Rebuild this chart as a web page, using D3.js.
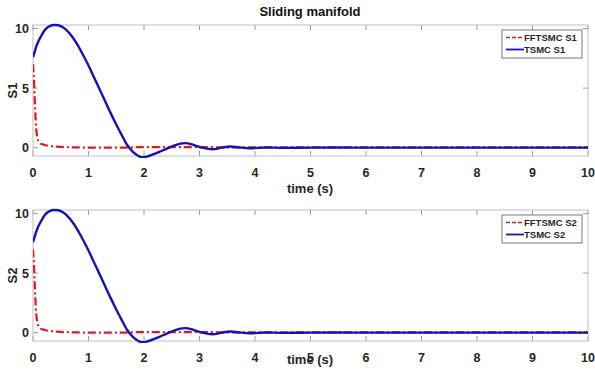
<!DOCTYPE html>
<html><head><meta charset="utf-8">
<script src="https://cdn.jsdelivr.net/npm/d3@7"></script>
<style>body{margin:0;background:#fff}svg{display:block}text{font-family:"Liberation Sans",Arial,sans-serif}</style>
</head><body>
<svg id="c" width="595" height="370"></svg>
<script>
const xTicks = [0,1,2,3,4,5,6,7,8,9,10];
const yTicks = [0,5,10];
const time   = [0,   0.02,0.04,0.06,0.08,0.1, 0.12,0.15,0.2, 0.25, 0.3, 0.38,0.45, 0.5, 0.6, 0.7, 0.8, 0.9, 1.0, 1.1, 1.2, 1.3, 1.4, 1.5, 1.6, 1.7, 1.8,  1.9, 1.96,2.05, 2.2, 2.4, 2.55,2.74,2.9, 3.05,3.24, 3.4, 3.55,3.7, 3.9,  4.2, 4.5,  5,   5.5, 6,   7,   8,   9,   10];
const tsmcS1 = [7.6, 7.9, 8.2, 8.5, 8.75,8.95,9.15,9.4, 9.8, 10.05,10.2,10.3,10.28,10.2,9.9, 9.35,8.65,7.8, 6.9, 5.9, 4.9, 3.9, 2.9, 1.95,1.05,0.2, -0.35,-0.7,-0.8,-0.75,-0.5,-0.1,0.2, 0.38,0.22,0.0, -0.13,0.0, 0.1, 0.03,-0.05,0.02,-0.02,0.0, 0.01,0.0, 0.0, 0.0, 0.0, 0.0];
const ffS1   = [7.0, 5.4, 3.1, 1.5, 0.8, 0.55,0.42,0.32,0.24,0.18, 0.14,0.1, 0.08, 0.06,0.04,0.03,0.02,0.01,0.0, 0.0, 0.0, 0.0, 0.0, 0.0, 0.0, 0.02,0.03, 0.04,0.05,0.05, 0.05,0.05,0.05,0.05,0.05,0.05,0.04, 0.03,0.03,0.02,0.02, 0.02,0.02, 0.02,0.02,0.02,0.02,0.02,0.02,0.02];
const tsmcS2 = tsmcS1.slice();
const ffS2 = ffS1.slice();
const panels = [
  {top:25, bottom:156, ylab:"S1", legend:["FFTSMC S1","TSMC S1"], blue:tsmcS1, red:ffS1, xlabY:193},
  {top:210, bottom:341, ylab:"S2", legend:["FFTSMC S2","TSMC S2"], blue:tsmcS2, red:ffS2, xlabY:364}
];
const svg = d3.select("#c");
const left = 33, right = 588;
const x = d3.scaleLinear().domain([0,10]).range([left,right]);
const txtCol = "#262626", axCol = "#bfbfbf";
panels.forEach(p => {
  const y = d3.scaleLinear().domain([-0.7,10.3]).range([p.bottom,p.top]);
  const g = svg.append("g");
  xTicks.forEach(t => {
    g.append("line").attr("x1",x(t)).attr("x2",x(t)).attr("y1",p.bottom).attr("y2",p.bottom-5).attr("stroke","#9a9a9a");
    g.append("line").attr("x1",x(t)).attr("x2",x(t)).attr("y1",p.top).attr("y2",p.top+5).attr("stroke","#9a9a9a");
    g.append("text").attr("x",x(t)).attr("y",p.bottom+21).attr("text-anchor","middle").attr("font-size",12.5).attr("font-weight","bold").attr("fill",txtCol).text(t);
  });
  yTicks.forEach(t => {
    g.append("line").attr("x1",left).attr("x2",left+5).attr("y1",y(t)).attr("y2",y(t)).attr("stroke","#9a9a9a");
    g.append("line").attr("x1",right).attr("x2",right-5).attr("y1",y(t)).attr("y2",y(t)).attr("stroke","#9a9a9a");
    g.append("text").attr("x",left-4).attr("y",y(t)+4.5).attr("text-anchor","end").attr("font-size",12.5).attr("font-weight","bold").attr("fill",txtCol).text(t);
  });
  g.append("rect").attr("x",left).attr("y",p.top).attr("width",right-left).attr("height",p.bottom-p.top).attr("fill","none").attr("stroke",axCol);
  const line = d3.line().x((d,i)=>x(time[i])).y(d=>y(d)).curve(d3.curveMonotoneX);
  const clip = "clip"+p.ylab;
  svg.append("clipPath").attr("id",clip).append("rect").attr("x",left).attr("y",p.top-2).attr("width",right-left).attr("height",p.bottom-p.top+4);
  const cg = g.append("g").attr("clip-path",`url(#${clip})`);
  cg.append("path").datum(p.red).attr("d",line).attr("fill","none").attr("stroke","#e8141c").attr("stroke-width",2.2).attr("stroke-dasharray","8,3,2,3");
  cg.append("path").datum(p.blue).attr("d",line).attr("fill","none").attr("stroke","#1414b4").attr("stroke-width",2.4);
  g.append("text").attr("transform",`translate(17,${(p.top+p.bottom)/2}) rotate(-90)`).attr("text-anchor","middle").attr("font-size",13).attr("font-weight","bold").attr("fill",txtCol).text(p.ylab);
  g.append("text").attr("x",310).attr("y",p.xlabY).attr("text-anchor","middle").attr("font-size",13).attr("font-weight","bold").attr("fill",txtCol).text("time (s)");
  const lx = 502, ly = p.top+5;
  g.append("rect").attr("x",lx).attr("y",ly).attr("width",80).attr("height",28).attr("fill","#fff").attr("stroke","#555").attr("stroke-width",0.8);
  g.append("line").attr("x1",lx+4).attr("x2",lx+22).attr("y1",ly+7.5).attr("y2",ly+7.5).attr("stroke","#e8141c").attr("stroke-width",1.6).attr("stroke-dasharray","4,2");
  g.append("line").attr("x1",lx+4).attr("x2",lx+22).attr("y1",ly+19.5).attr("y2",ly+19.5).attr("stroke","#1414b4").attr("stroke-width",1.8);
  g.append("text").attr("x",lx+22).attr("y",ly+11).attr("font-size",9.5).attr("font-weight","bold").attr("fill",txtCol).text(p.legend[0]);
  g.append("text").attr("x",lx+22).attr("y",ly+23).attr("font-size",9.5).attr("font-weight","bold").attr("fill",txtCol).text(p.legend[1]);
});
svg.append("text").attr("x",310).attr("y",16).attr("text-anchor","middle").attr("font-size",13).attr("font-weight","bold").attr("fill","#111").text("Sliding manifold");
</script>
</body></html>
